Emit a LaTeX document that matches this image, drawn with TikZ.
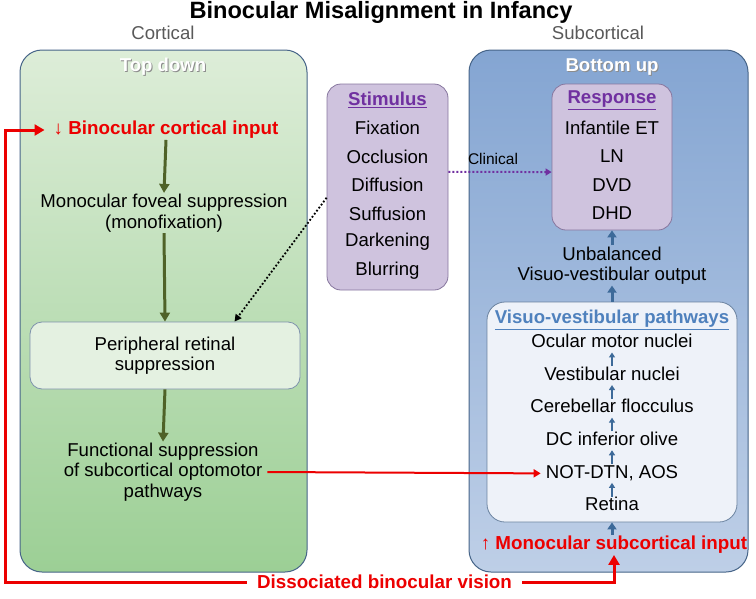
\documentclass[tikz,border=0pt]{standalone}
\usepackage{fontspec}
\setmainfont{Liberation Sans}
\usetikzlibrary{arrows.meta,positioning}

\definecolor{cortgreen}{RGB}{79,98,40}
\definecolor{subblue}{RGB}{61,106,153}
\definecolor{hired}{RGB}{236,0,0}
\definecolor{stimpurple}{RGB}{112,48,160}
\definecolor{boxedge}{RGB}{70,100,136}
\definecolor{lilac}{RGB}{207,195,222}
\definecolor{lilacedge}{RGB}{135,118,158}
\definecolor{pathblue}{RGB}{79,129,189}

\tikzset{
  txt/.style={font=\fontsize{18.6}{20.5}\selectfont, align=center, inner sep=1pt},
  redtxt/.style={font=\bfseries\fontsize{18.8}{21}\selectfont, text=hired, inner sep=1pt},
  headtxt/.style={font=\bfseries\fontsize{18.6}{20}\selectfont, text=white},
  headshadow/.style={font=\bfseries\fontsize{18.6}{20}\selectfont, text=black!45},
  greenarr/.style={draw=cortgreen, line width=3pt, -{Triangle[length=9pt,width=10pt]}},
  bluearr/.style={draw=subblue, line width=3pt, -{Triangle[length=7pt,width=9pt]}},
  smallarr/.style={draw=subblue, line width=1.8pt, -{Triangle[length=5pt,width=6pt]}},
  redarr/.style={draw=hired, line width=3pt, -{Triangle[length=10pt,width=11pt]}},
  lilacbox/.style={draw=lilacedge, line width=0.8pt, fill=lilac, rounded corners=14pt},
}

\begin{document}
\begin{tikzpicture}[x=1pt, y=-1pt]
  \useasboundingbox (0,0) rectangle (756,598);

  % titles
  \node[font=\bfseries\fontsize{23.6}{26}\selectfont] (title) at (381,12.5) {Binocular Misalignment in Infancy};
  \node[txt, text=black!65] (cort) at (163,33) {Cortical};
  \node[txt, text=black!65] (subc) at (598,33) {Subcortical};

  % the two big panels
  \node[draw=boxedge, line width=1pt, rounded corners=22pt, minimum width=287pt, minimum height=522pt,
        top color={rgb,255:red,221;green,237;blue,216}, bottom color={rgb,255:red,156;green,207;blue,149}]
        (lbox) at (163.5,311) {};
  \node[draw=boxedge, line width=1pt, rounded corners=22pt, minimum width=279pt, minimum height=522pt,
        top color={rgb,255:red,132;green,165;blue,210}, middle color={rgb,255:red,224;green,232;blue,243},
        bottom color={rgb,255:red,190;green,207;blue,231}]
        (rbox) at (608.5,311) {};
  \node[headshadow] (topdownsh) at (164,68) {Top down};
  \node[headtxt] (topdown) at (163,67) {Top down};
  \node[headshadow] (botupsh) at (613,68) {Bottom up};
  \node[headtxt] (botup) at (612,67) {Bottom up};

  % cortical side
  \node[redtxt] (bci) at (166,130) {↓ Binocular cortical input};
  \node[txt] (mfs) at (164,213) {Monocular foveal suppression\\(monofixation)};
  \node[draw=boxedge!70, line width=0.8pt, fill={rgb,255:red,228;green,241;blue,225}, rounded corners=12pt,
        minimum width=270pt, minimum height=67pt, txt] (periph) at (165,355.5) {Peripheral retinal\\suppression};
  \node[txt, inner xsep=5pt] (fsup) at (163,472) {Functional suppression\\of subcortical optomotor\\pathways};

  \draw[greenarr] (bci.south) -- (mfs.north);
  \draw[greenarr] (mfs.south) -- (periph.north);
  \draw[greenarr] (periph.south) -- (fsup.north);

  % stimulus list
  \node[lilacbox, minimum width=121pt, minimum height=206pt] (stim) at (387.5,187) {};
  \node[txt, font=\bfseries\fontsize{18.6}{20}\selectfont, text=stimpurple] (stimtitle) at (387.5,100) {\underline{Stimulus}};
  \foreach \t [count=\i] in {Fixation,Occlusion,Diffusion,Suffusion,Darkening,Blurring}
    \node[txt] (s\i) at (387.5,{99.5+28.5*\i}) {\t};

  % response list
  \node[lilacbox, minimum width=120pt, minimum height=146pt] (resp) at (612,157) {};
  \node[txt, font=\bfseries\fontsize{18.6}{20}\selectfont, text=stimpurple] (resptitle) at (612,100) {\underline{Response}};
  \foreach \t [count=\i] in {Infantile ET,LN,DVD,DHD}
    \node[txt] (r\i) at (612,{99.5+28.5*\i}) {\t};

  \draw[stimpurple, line width=2pt, dotted, -{Triangle[length=6pt,width=7pt]}] (stim.14) -- (resp.194)
    node[midway, above=3pt, font=\fontsize{15.5}{18}\selectfont, text=black, xshift=-7pt] (clin) {Clinical};
  \draw[black, line width=1.8pt, dotted, -{Triangle[length=7pt,width=7pt]}] (stim.190) -- (periph.26);

  % subcortical side
  \node[txt] (unbal) at (612,265.5) {Unbalanced\\Visuo-vestibular output};
  \node[draw=boxedge!80, line width=0.8pt, fill={rgb,255:red,238;green,242;blue,249}, rounded corners=18pt,
        minimum width=250pt, minimum height=220pt] (vvbox) at (612,412) {};
  \node[txt, font=\bfseries\fontsize{18.6}{20}\selectfont, text=pathblue] (vvtitle) at (612,320) {\underline{Visuo-vestibular pathways}};
  \foreach \t [count=\i] in {Ocular motor nuclei,Vestibular nuclei,Cerebellar flocculus,DC inferior olive,{NOT-DTN, AOS},Retina}
    \node[txt, text height=13pt, text depth=3.5pt] (p\i) at (612,{310.4+32.6*\i}) {\t};
  \foreach \i in {1,...,5} {
    \pgfmathtruncatemacro\j{\i+1}
    \draw[smallarr] (p\j.north) -- (p\i.south);
  }
  \node[redtxt] (msi) at (614,545) {↑ Monocular subcortical input};

  \draw[bluearr] (unbal.north) -- (resp.south);
  \draw[bluearr] (vvbox.north) -- (unbal.south);
  \draw[bluearr] (vvbox.south |- msi.north) -- (vvbox.south);

  % red links
  \node[redtxt, inner xsep=10pt] (dbv) at (384.5,582) {Dissociated binocular vision};
  \coordinate (lbend) at (5,582);
  \draw[redarr, shorten >=8pt] (dbv.west) -- (lbend) |- (bci.west);
  \draw[redarr] (dbv.east) -| (msi.south);
  \draw[draw=hired, line width=2pt, shorten >=4pt, -{Triangle[length=7pt,width=8pt]}] (fsup.east) -- (p5.west);
\end{tikzpicture}
\end{document}
